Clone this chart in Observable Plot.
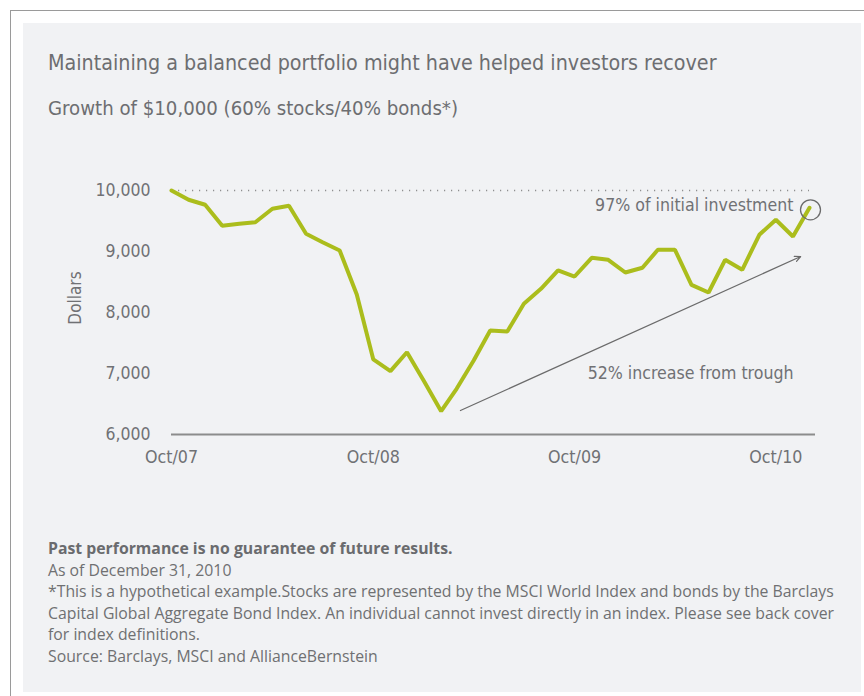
<!DOCTYPE html>
<html>
<head>
<meta charset="utf-8">
<script src="https://cdn.jsdelivr.net/npm/d3@7"></script>
<script src="https://cdn.jsdelivr.net/npm/@observablehq/plot@0.6"></script>
<style>
  html, body { margin: 0; padding: 0; background: #ffffff; }
  body { width: 864px; height: 696px; position: relative; overflow: hidden; }
  #frame { position: absolute; left: 10px; top: 10px; width: 900px; height: 700px;
           border-left: 1px solid #9a9a9a; border-top: 1px solid #9a9a9a; }
  #panel { position: absolute; left: 23px; top: 23px; width: 838px; height: 669px; background: #f1f2f4; }
  .cond { font-family: "Liberation Sans Narrow", "DejaVu Sans Condensed", "Roboto", sans-serif; }
  #title { position: absolute; left: 48px; top: 50px; font-size: 21.3px; color: #6d6e71; white-space: nowrap; }
  #subtitle { position: absolute; left: 48px; top: 96px; font-size: 20.2px; color: #6d6e71; white-space: nowrap; }
  #ylabel { position: absolute; left: 75px; top: 298px; font-size: 17px; color: #707174; white-space: nowrap;
            transform: translate(-50%, -50%) rotate(-90deg); }
  #chart { position: absolute; left: 0; top: 140px; }
  #notes { position: absolute; left: 48px; top: 538px; font-family: "Open Sans", "Noto Sans", sans-serif;
           font-size: 15.8px; line-height: 21.6px; color: #6f7072; white-space: nowrap; }
  #notes b { font-weight: 700; color: #6a6b6e; }
</style>
</head>
<body>
<div id="frame"></div>
<div id="panel"></div>
<div id="title" class="cond">Maintaining a balanced portfolio might have helped investors recover</div>
<div id="subtitle" class="cond">Growth of $10,000 (60% stocks/40% bonds*)</div>
<div id="ylabel" class="cond">Dollars</div>
<div id="chart"></div>
<div id="notes">
  <b>Past performance is no guarantee of future results.</b><br>
  As of December 31, 2010<br>
  *This is a hypothetical example.Stocks are represented by the MSCI World Index and bonds by the Barclays<br>
  Capital Global Aggregate Bond Index. An individual cannot invest directly in an index. Please see back cover<br>
  for index definitions.<br>
  Source: Barclays, MSCI and AllianceBernstein
</div>
<script>
// Month-end observations, Oct 2007 – Dec 2010
const months = [
  "2007-10","2007-11","2007-12",
  "2008-01","2008-02","2008-03","2008-04","2008-05","2008-06","2008-07","2008-08","2008-09","2008-10","2008-11","2008-12",
  "2009-01","2009-02","2009-03","2009-04","2009-05","2009-06","2009-07","2009-08","2009-09","2009-10","2009-11","2009-12",
  "2010-01","2010-02","2010-03","2010-04","2010-05","2010-06","2010-07","2010-08","2010-09","2010-10","2010-11","2010-12"
];
const values = [
  10000, 9848, 9766,
  9421, 9454, 9480, 9700, 9749, 9290, 9152, 9016, 8295, 7230, 7038, 7349,
  6874, 6382, 6749, 7213, 7705, 7689, 8143, 8389, 8689, 8590, 8897, 8864,
  8656, 8733, 9028, 9028, 8454, 8328, 8864, 8700, 9274, 9520, 9246, 9716
];
const xTickMonths = ["2007-10", "2008-10", "2009-10", "2010-10"];
const xTickLabels = ["Oct/07", "Oct/08", "Oct/09", "Oct/10"];
const yTicks = [6000, 7000, 8000, 9000, 10000];
const initialInvestment = 10000;
const noteFinal = "97% of initial investment";
const noteTrough = "52% increase from trough";
const troughNoteLevel = 7000;
// trend arrow (data space): from just after trough to just before end
const arrowFrom = {month: "2009-03-08", value: 6393};
const arrowTo = {month: "2010-11-15", value: 8918};

const parseM = d3.utcParse("%Y-%m");
const parseD = d3.utcParse("%Y-%m-%d");
const data = months.map((m, i) => ({date: parseM(m), value: values[i]}));
const tickDates = xTickMonths.map(parseM);
const tickLabelOf = new Map(tickDates.map((d, i) => [+d, xTickLabels[i]]));
const last = data[data.length - 1];

const green = "#abbd1c";
const grey = "#707174";

const chart = Plot.plot({
  width: 864,
  height: 340,
  marginLeft: 171,
  marginRight: 55,
  marginTop: 50,
  marginBottom: 46,
  style: {
    fontFamily: '"Liberation Sans Narrow", "DejaVu Sans Condensed", Roboto, sans-serif',
    fontSize: "18px",
    color: grey,
    background: "transparent",
    overflow: "visible"
  },
  x: {type: "utc", domain: [data[0].date, last.date]},
  y: {domain: [6000, 10000]},
  marks: [
    Plot.axisY({ticks: yTicks, tickSize: 0, tickPadding: 21, tickFormat: d3.format(","), fontSize: 17.5, label: null}),
    Plot.axisX({ticks: tickDates, tickSize: 0, tickPadding: 16, tickFormat: d => tickLabelOf.get(+d), fontSize: 17.7, label: null}),
    Plot.ruleY([initialInvestment], {stroke: "#8f8f8f", strokeWidth: 1.5, strokeDasharray: "1.2 5.8"}),
    Plot.ruleY([6000], {stroke: "#8c8c8c", strokeWidth: 2, insetRight: -6}),
    Plot.arrow([0], {
      x1: () => parseD(arrowFrom.month), y1: () => arrowFrom.value,
      x2: () => parseD(arrowTo.month), y2: () => arrowTo.value,
      stroke: "#6b6b6b", strokeWidth: 1.2, headLength: 8, headAngle: 50
    }),
    Plot.line(data, {x: "date", y: "value", stroke: green, strokeWidth: 4, strokeLinejoin: "miter", strokeLinecap: "round"}),
    Plot.dot([last], {x: "date", y: "value", r: 10, stroke: "#6b6b6b", strokeWidth: 1.3, fill: "none", dx: 1, dy: 2}),
    Plot.text([last], {x: "date", y: "value", text: () => noteFinal, textAnchor: "end", dx: -16, dy: -2,
                       fontSize: 17.6, fill: grey}),
    Plot.text([last], {x: "date", y: () => troughNoteLevel, text: () => noteTrough, textAnchor: "end", dx: -16,
                       fontSize: 17.6, fill: grey})
  ]
});
document.getElementById("chart").appendChild(chart);
</script>
</body>
</html>
